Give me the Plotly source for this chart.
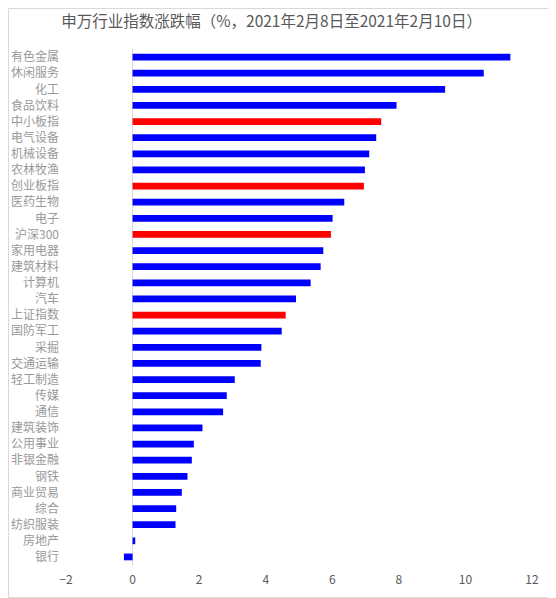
import plotly.graph_objects as go

# 申万行业 + 宽基指数, 2021-02-08 ~ 2021-02-10
industries = ["有色金属", "休闲服务", "化工", "食品饮料", "中小板指", "电气设备", "机械设备", "农林牧渔",
              "创业板指", "医药生物", "电子", "沪深300", "家用电器", "建筑材料", "计算机", "汽车",
              "上证指数", "国防军工", "采掘", "交通运输", "轻工制造", "传媒", "通信", "建筑装饰",
              "公用事业", "非银金融", "钢铁", "商业贸易", "综合", "纺织服装", "房地产", "银行"]
changes = [11.35, 10.55, 9.39, 7.93, 7.47, 7.32, 7.11, 6.98,
           6.95, 6.36, 6.01, 5.96, 5.73, 5.65, 5.35, 4.91,
           4.60, 4.48, 3.87, 3.85, 3.07, 2.83, 2.72, 2.10,
           1.84, 1.78, 1.65, 1.48, 1.31, 1.29, 0.08, -0.26]
broad_indices = ["中小板指", "创业板指", "沪深300", "上证指数"]

bar_colors = ["#FF0000" if name in broad_indices else "#0000FF" for name in industries]

fig = go.Figure(go.Bar(
    x=changes,
    y=industries,
    orientation="h",
    marker=dict(color=bar_colors, line=dict(width=0)),
    width=0.42,
))

# page body has an 8px default margin, so the figure is sized/offset for that
fig.update_layout(
    title=dict(text="申万行业指数涨跌幅（%，2021年2月8日至2021年2月10日）",
               x=0.481, xanchor="center", y=1 - 14 / 590, yanchor="middle",
               font=dict(size=15.5, color="#595959")),
    font=dict(family="Noto Sans CJK SC, sans-serif"),
    width=548, height=590,
    margin=dict(l=58, r=24, t=41, b=33, autoexpand=False),
    paper_bgcolor="white",
    plot_bgcolor="white",
    showlegend=False,
)
fig.update_xaxes(
    range=[-2, 12], dtick=2, showgrid=False,
    zeroline=True, zerolinecolor="#d9d9d9", zerolinewidth=1,
    showline=False, ticks="", ticklabelstandoff=6,
    tickfont=dict(size=12, color="#595959"),
)
fig.update_yaxes(
    autorange="reversed", showgrid=False, showline=False, ticks="",
    tickfont=dict(size=12, color="#999999"), ticklabelstandoff=6,
    automargin=False,
)
# outer light border of the chart area
fig.add_shape(type="rect", xref="paper", yref="paper",
              x0=-57.5 / 466, x1=1 + 21.5 / 466, y0=-32.5 / 516, y1=1 + 40.5 / 516,
              line=dict(color="#d9d9d9", width=1))

fig.write_html("out.html")
